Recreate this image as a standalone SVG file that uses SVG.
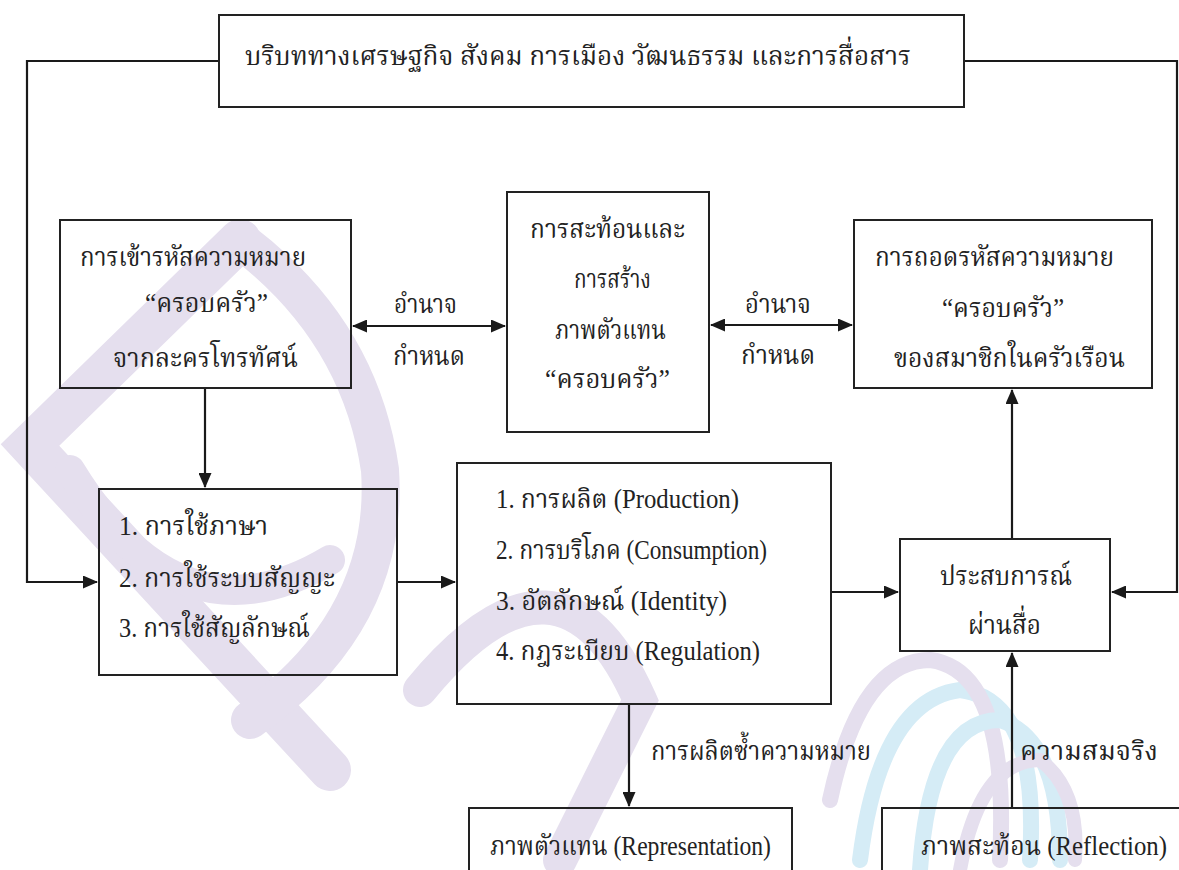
<svg xmlns="http://www.w3.org/2000/svg" width="1179" height="870" viewBox="0 0 1179 870">
<style>
.box{fill:none;stroke:#222;stroke-width:2}
.ln{fill:none;stroke:#1a1a1a;stroke-width:2.2}
.t{font-family:"Liberation Serif","Noto Serif Thai","Noto Sans Thai",serif;font-size:27px;fill:#222}
.wm1{fill:none;stroke:#e5dfee;stroke-linecap:round}
.wm2{fill:none;stroke:#d5ecf6;stroke-linecap:round}
</style>
<defs>
<marker id="ah" markerUnits="userSpaceOnUse" markerWidth="15" markerHeight="13" refX="14" refY="6.5" orient="auto-start-reverse">
<path d="M0,0 L15,6.5 L0,13 z" fill="#1a1a1a"/>
</marker>
</defs>
<rect width="1179" height="870" fill="#ffffff"/>
<g id="watermark">
<path class="wm1" stroke-width="42" d="M240,240 L30,445 L330,770"/>
<path class="wm1" stroke-width="38" d="M240,240 Q360,330 380,470 Q390,620 250,720"/>
<path class="wm1" stroke-width="30" d="M70,470 Q180,650 330,560"/>
<path class="wm1" stroke-width="34" d="M420,690 Q560,520 640,700 L560,860"/>
<path class="wm2" stroke-width="16" d="M860,860 Q880,700 960,690 Q1040,700 1030,860"/>
<path class="wm1" stroke-width="16" d="M830,800 Q860,660 930,660 Q1010,670 1000,860"/>
<path class="wm2" stroke-width="16" d="M920,870 Q930,720 1000,720 Q1060,740 1060,860"/>
<path class="wm1" stroke-width="14" d="M960,870 Q980,760 1040,760 Q1080,790 1075,860"/>
</g>
<g id="connectors">
<path class="ln" d="M219,61 L27,61 L27,582 L97,582" marker-end="url(#ah)"/>
<path class="ln" d="M964,61 L1177,61 L1177,592 L1112,592" marker-end="url(#ah)"/>
<path class="ln" d="M205,388 L205,487" marker-end="url(#ah)"/>
<path class="ln" d="M397,582 L455,582" marker-end="url(#ah)"/>
<path class="ln" d="M831,592 L898,592" marker-end="url(#ah)"/>
<path class="ln" d="M1012,539 L1012,390" marker-end="url(#ah)"/>
<path class="ln" d="M1012,808 L1012,653" marker-end="url(#ah)"/>
<path class="ln" d="M629,704 L629,806" marker-end="url(#ah)"/>
<path class="ln" d="M353,326 L505,326" marker-start="url(#ah)" marker-end="url(#ah)"/>
<path class="ln" d="M711,325 L852,325" marker-start="url(#ah)" marker-end="url(#ah)"/>
<text class="t" x="394" y="313" textLength="63" lengthAdjust="spacingAndGlyphs">อำนาจ</text>
<text class="t" x="393" y="365" textLength="72" lengthAdjust="spacingAndGlyphs">กำหนด</text>
<text class="t" x="745" y="313" textLength="66" lengthAdjust="spacingAndGlyphs">อำนาจ</text>
<text class="t" x="741" y="364" textLength="74" lengthAdjust="spacingAndGlyphs">กำหนด</text>
<text class="t" x="651" y="760" textLength="220" lengthAdjust="spacingAndGlyphs">การผลิตซ้ำความหมาย</text>
<text class="t" x="1020" y="760" textLength="138" lengthAdjust="spacingAndGlyphs">ความสมจริง</text>
</g>
<g id="context">
<rect class="box" x="219" y="15" width="745" height="92"/>
<text class="t" x="245" y="65" textLength="666" lengthAdjust="spacingAndGlyphs">บริบททางเศรษฐกิจ สังคม การเมือง วัฒนธรรม และการสื่อสาร</text>
</g>
<g id="encoding">
<rect class="box" x="60" y="220" width="291" height="168"/>
<text class="t" x="80" y="266" textLength="226" lengthAdjust="spacingAndGlyphs">การเข้ารหัสความหมาย</text>
<text class="t" x="145" y="312" textLength="123" lengthAdjust="spacingAndGlyphs">“ครอบครัว”</text>
<text class="t" x="113" y="367" textLength="185" lengthAdjust="spacingAndGlyphs">จากละครโทรทัศน์</text>
</g>
<g id="reflection-construction">
<rect class="box" x="507" y="192" width="202" height="240"/>
<text class="t" x="530" y="238" textLength="155" lengthAdjust="spacingAndGlyphs">การสะท้อนและ</text>
<text class="t" x="574" y="288" textLength="77" lengthAdjust="spacingAndGlyphs">การสร้าง</text>
<text class="t" x="555" y="339" textLength="111" lengthAdjust="spacingAndGlyphs">ภาพตัวแทน</text>
<text class="t" x="545" y="388" textLength="125" lengthAdjust="spacingAndGlyphs">“ครอบครัว”</text>
</g>
<g id="decoding">
<rect class="box" x="854" y="220" width="298" height="168"/>
<text class="t" x="875" y="266" textLength="239" lengthAdjust="spacingAndGlyphs">การถอดรหัสความหมาย</text>
<text class="t" x="942" y="317" textLength="122" lengthAdjust="spacingAndGlyphs">“ครอบครัว”</text>
<text class="t" x="894" y="367" textLength="231" lengthAdjust="spacingAndGlyphs">ของสมาชิกในครัวเรือน</text>
</g>
<g id="language">
<rect class="box" x="99" y="489" width="298" height="186"/>
<text class="t" x="119" y="535" textLength="149" lengthAdjust="spacingAndGlyphs">1.  การใช้ภาษา</text>
<text class="t" x="119" y="587" textLength="216" lengthAdjust="spacingAndGlyphs">2. การใช้ระบบสัญญะ</text>
<text class="t" x="119" y="637" textLength="191" lengthAdjust="spacingAndGlyphs">3. การใช้สัญลักษณ์</text>
</g>
<g id="circuit">
<rect class="box" x="457" y="463" width="374" height="241"/>
<text class="t" x="496" y="508" textLength="243" lengthAdjust="spacingAndGlyphs">1.  การผลิต (Production)</text>
<text class="t" x="496" y="559" textLength="271" lengthAdjust="spacingAndGlyphs">2. การบริโภค (Consumption)</text>
<text class="t" x="496" y="610" textLength="231" lengthAdjust="spacingAndGlyphs">3.  อัตลักษณ์  (Identity)</text>
<text class="t" x="496" y="660" textLength="264" lengthAdjust="spacingAndGlyphs">4. กฎระเบียบ (Regulation)</text>
</g>
<g id="media-experience">
<rect class="box" x="900" y="539" width="210" height="112"/>
<text class="t" x="940" y="585" textLength="132" lengthAdjust="spacingAndGlyphs">ประสบการณ์</text>
<text class="t" x="968" y="634" textLength="73" lengthAdjust="spacingAndGlyphs">ผ่านสื่อ</text>
</g>
<g id="representation">
<rect class="box" x="469" y="808" width="323" height="90"/>
<text class="t" x="490" y="855" textLength="281" lengthAdjust="spacingAndGlyphs">ภาพตัวแทน (Representation)</text>
</g>
<g id="reflection">
<rect class="box" x="882" y="808" width="320" height="90"/>
<text class="t" x="921" y="855" textLength="246" lengthAdjust="spacingAndGlyphs">ภาพสะท้อน (Reflection)</text>
</g>
</svg>
